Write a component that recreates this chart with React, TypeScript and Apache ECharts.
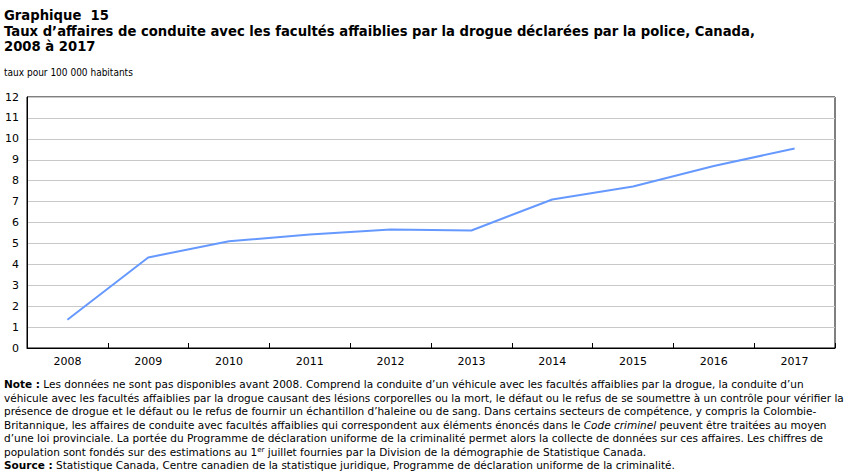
import React, { useEffect, useRef } from "react";
import * as echarts from "echarts";

// Years and rates of drug-impaired driving incidents per 100,000 population
const years = ["2008", "2009", "2010", "2011", "2012", "2013", "2014", "2015", "2016", "2017"];
const rates = [1.35, 4.33, 5.1, 5.43, 5.66, 5.62, 7.1, 7.72, 8.7, 9.54];

const titleLines = [
  "Graphique  15",
  "Taux d’affaires de conduite avec les facultés affaiblies par la drogue déclarées par la police, Canada,",
  "2008 à 2017",
];
const unitLabel = "taux pour 100 000 habitants";

const noteLines = [
  "{b|Note :} Les données ne sont pas disponibles avant 2008. Comprend la conduite d’un véhicule avec les facultés affaiblies par la drogue, la conduite d’un",
  "véhicule avec les facultés affaiblies par la drogue causant des lésions corporelles ou la mort, le défaut ou le refus de se soumettre à un contrôle pour vérifier la",
  "présence de drogue et le défaut ou le refus de fournir un échantillon d’haleine ou de sang. Dans certains secteurs de compétence, y compris la Colombie-",
  "Britannique, les affaires de conduite avec facultés affaiblies qui correspondent aux éléments énoncés dans le {i|Code criminel} peuvent être traitées au moyen",
  "d’une loi provinciale. La portée du Programme de déclaration uniforme de la criminalité permet alors la collecte de données sur ces affaires. Les chiffres de",
  "population sont fondés sur des estimations au 1{sup|er} juillet fournies par la Division de la démographie de Statistique Canada.",
  "{b|Source :} Statistique Canada, Centre canadien de la statistique juridique, Programme de déclaration uniforme de la criminalité.",
];

const FONT = "'DejaVu Sans', Verdana, sans-serif";
const COND_FONT = "'DejaVu Sans Condensed', 'DejaVu Sans', sans-serif";
const NOTE_SIZE = 10.5;

export default function App() {
  const ref = useRef<HTMLDivElement>(null);

  useEffect(() => {
    if (!ref.current) return;
    const chart = echarts.init(ref.current, undefined, { renderer: "svg" });

    const titleY = [15, 31, 46];
    const noteY0 = 384;
    const noteStep = 13.5;

    const graphics: any[] = [];
    titleLines.forEach((t, i) => {
      graphics.push({
        type: "text",
        x: 4,
        y: titleY[i],
        style: {
          text: t,
          fontFamily: FONT,
          fontWeight: "bold",
          fontSize: 13.2,
          fill: "#000",
          verticalAlign: "middle",
        },
      });
    });
    graphics.push({
      type: "text",
      x: 4,
      y: 72,
      style: {
        text: unitLabel,
        fontFamily: COND_FONT,
        fontSize: 10,
        fill: "#000",
        verticalAlign: "middle",
      },
    });
    noteLines.forEach((t, i) => {
      graphics.push({
        type: "text",
        x: 4,
        y: noteY0 + i * noteStep,
        style: {
          text: t,
          fontFamily: FONT,
          fontSize: NOTE_SIZE,
          fill: "#000",
          verticalAlign: "middle",
          rich: {
            b: { fontFamily: FONT, fontSize: NOTE_SIZE, fontWeight: "bold", fill: "#000" },
            i: { fontFamily: FONT, fontSize: NOTE_SIZE, fontStyle: "italic", fill: "#000" },
            sup: { fontFamily: FONT, fontSize: 7, fill: "#000", verticalAlign: "top" },
          },
        },
      });
    });

    chart.setOption({
      animation: false,
      backgroundColor: "#fff",
      grid: {
        left: 27,
        right: 17,
        top: 97,
        bottom: 125,
        show: true,
        borderColor: "#000",
        borderWidth: 1,
      },
      xAxis: {
        type: "category",
        data: years,
        boundaryGap: true,
        axisLine: { lineStyle: { color: "#000", width: 1 } },
        axisTick: { show: true, inside: true, length: 5, alignWithLabel: false, lineStyle: { color: "#000" } },
        axisLabel: { color: "#000", fontFamily: FONT, fontSize: 11, margin: 8 },
        splitLine: { show: false },
      },
      yAxis: {
        type: "value",
        min: 0,
        max: 12,
        interval: 1,
        axisLine: { show: true, lineStyle: { color: "#000", width: 1 } },
        axisTick: { show: false },
        axisLabel: { color: "#000", fontFamily: FONT, fontSize: 11, margin: 8 },
        splitLine: { show: true, lineStyle: { color: "#c8c8c8", width: 1 } },
      },
      series: [
        {
          type: "line",
          data: rates,
          symbol: "none",
          lineStyle: { color: "#6699ff", width: 2 },
          itemStyle: { color: "#6699ff" },
        },
      ],
      graphic: graphics,
    });

    return () => chart.dispose();
  }, []);

  return (
    <div
      ref={ref}
      style={{ position: "fixed", left: 0, top: 0, width: 852, height: 473, background: "#fff" }}
    />
  );
}
